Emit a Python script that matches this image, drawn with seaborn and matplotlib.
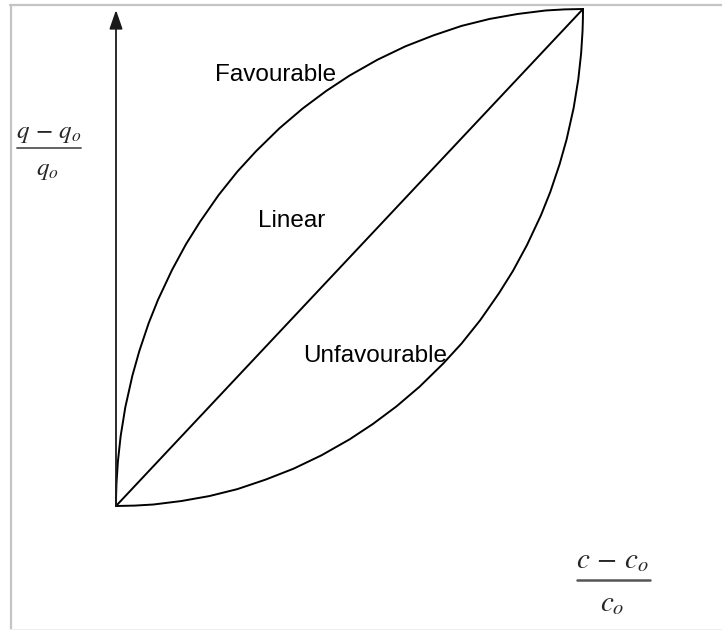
import matplotlib
matplotlib.use("Agg")
import matplotlib.pyplot as plt
from matplotlib.lines import Line2D
import pandas as pd
import seaborn as sns

sns.set_theme(style="white")
plt.rcParams["font.family"] = ["Liberation Sans", "DejaVu Sans"]
plt.rcParams["mathtext.fontset"] = "stix"

# Relative concentration change (c - c0)/c0 and relative loading (q - q0)/q0
fav_x = [0.0, 0.0002, 0.001, 0.004, 0.01, 0.02, 0.035, 0.05, 0.07, 0.09, 0.12, 0.15,
         0.18, 0.22, 0.26, 0.30, 0.35, 0.40, 0.45, 0.50, 0.56, 0.62, 0.68, 0.74,
         0.80, 0.86, 0.92, 0.96, 1.0]
fav_y = [0.0, 0.020, 0.045, 0.089, 0.141, 0.199, 0.262, 0.312, 0.368, 0.415, 0.475, 0.527,
         0.572, 0.626, 0.673, 0.714, 0.760, 0.800, 0.835, 0.866, 0.898, 0.925, 0.947, 0.966,
         0.980, 0.990, 0.997, 0.9992, 1.0]

lin_x = [0.0, 1.0]
lin_y = [0.0, 1.0]

unf_x = [0.0, 0.04, 0.08, 0.14, 0.20, 0.26, 0.32, 0.38, 0.44, 0.50, 0.55, 0.60,
         0.65, 0.70, 0.74, 0.78, 0.82, 0.85, 0.88, 0.91, 0.93, 0.95, 0.965, 0.98,
         0.99, 0.996, 0.999, 0.9998, 1.0]
unf_y = [0.0, 0.0008, 0.003, 0.010, 0.020, 0.034, 0.053, 0.075, 0.102, 0.134, 0.165, 0.200,
         0.240, 0.286, 0.327, 0.374, 0.428, 0.473, 0.525, 0.585, 0.632, 0.688, 0.738, 0.801,
         0.859, 0.911, 0.955, 0.980, 1.0]

curve_names = ["Favourable", "Linear", "Unfavourable"]

W, H = 722, 630
fig = plt.figure(figsize=(W / 100, H / 100), dpi=100)
ax = fig.add_axes([0, 0, 1, 1])

# pixel layout of the plotting frame: origin and the (1, 1) corner
ox, oy = 116, 506
sx, sy = 467, 497
ax.set_xlim(-ox / sx, (W - ox) / sx)
ax.set_ylim((oy - H) / sy, oy / sy)
ax.axis("off")

for name, xs, ys in zip(curve_names, [fav_x, lin_x, unf_x], [fav_y, lin_y, unf_y]):
    df = pd.DataFrame({"x": xs, "y": ys})
    sns.lineplot(data=df, x="x", y="y", sort=False, estimator=None,
                 color="black", linewidth=1.4, ax=ax)

# axes with arrow heads
arrow = dict(arrowstyle="-|>,head_length=1.15,head_width=0.4", mutation_scale=10,
             lw=1.3, color="#1a1a1a", shrinkA=0, shrinkB=0)
ax.annotate("", xy=(0, (oy - 10) / sy), xytext=(0, 0), arrowprops=arrow)
ax.annotate("", xy=((W + 2 - ox) / sx, 0), xytext=(0, 0), arrowprops=arrow)


def px(x, y):
    return x / W, 1 - y / H


# curve labels
fig.text(*px(215, 81), "Favourable", fontsize=17.5, color="black", va="baseline")
fig.text(*px(258, 227), "Linear", fontsize=17.5, color="black", va="baseline")
fig.text(*px(303, 362), "Unfavourable", fontsize=17.5, color="black", va="baseline")

# y-axis label as a stacked fraction
fig.text(*px(49, 138), r"$q\,-\,q_o$", fontsize=18, ha="center", va="baseline")
fig.add_artist(Line2D([17 / W, 81 / W], [1 - 148 / H] * 2, color="#555555", lw=1.3))
fig.text(*px(47, 175), r"$q_o$", fontsize=18, ha="center", va="baseline")

# x-axis label as a stacked fraction
fig.text(*px(612, 568), r"$c\,-\,c_o$", fontsize=21, ha="center", va="baseline")
fig.add_artist(Line2D([577 / W, 650 / W], [1 - 580 / H] * 2, color="#555555", lw=1.8))
fig.text(*px(612, 611), r"$c_o$", fontsize=21, ha="center", va="baseline")

# light frame around the drawing
frame = "#c4c4c4"
fig.add_artist(Line2D([11 / W, 11 / W], [0, 1 - 5 / H], color=frame, lw=1.6))
fig.add_artist(Line2D([10 / W, 1], [1 - 5 / H] * 2, color=frame, lw=1.6))
fig.add_artist(Line2D([10 / W, 1], [1 - 629 / H] * 2, color="#eeeeee", lw=0.8))

fig.savefig("out.png", dpi=100, facecolor="white")
